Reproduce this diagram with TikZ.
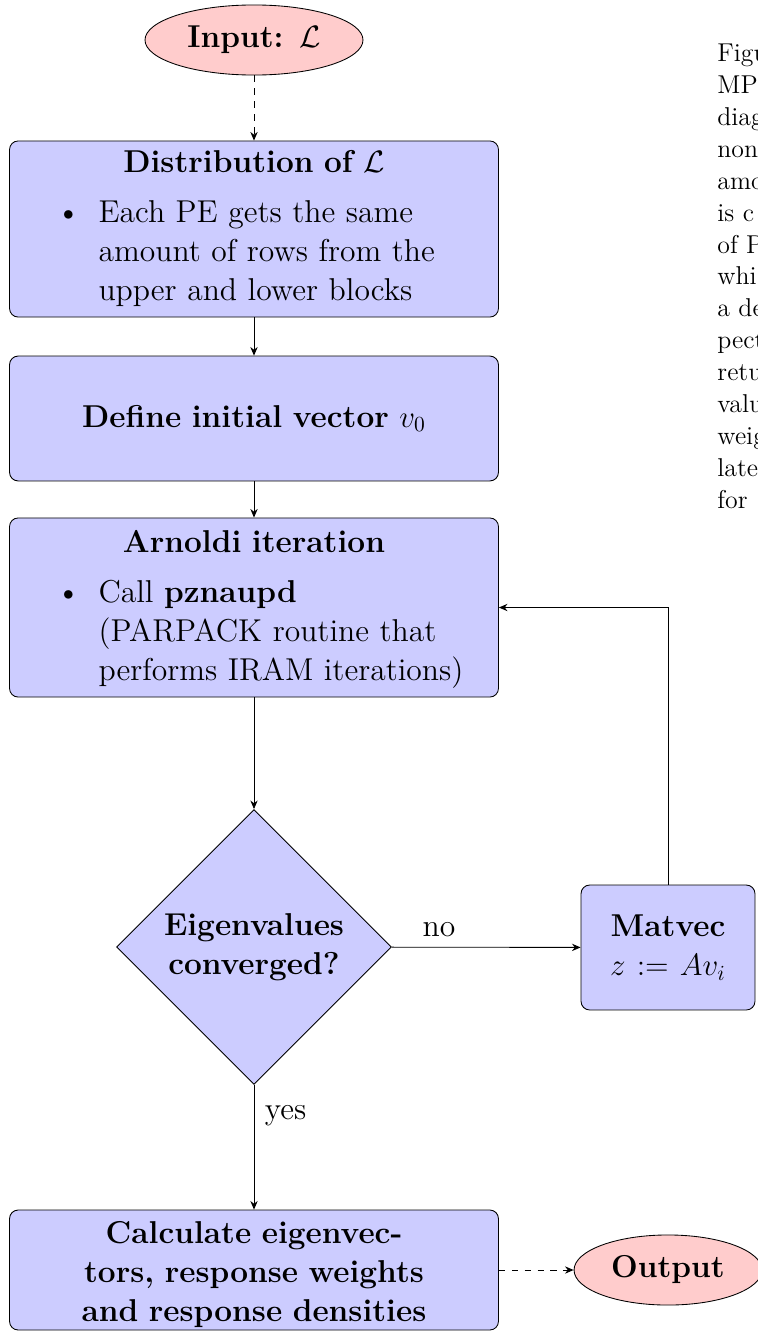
\documentclass[tikz,border=0pt]{standalone}
\usetikzlibrary{shapes.geometric,arrows.meta}
\begin{document}
\begin{tikzpicture}[x=0.46512pt,y=-0.46512pt,
  every node/.style={font=\fontsize{14.7}{18}\selectfont},
  procbox/.style={draw=black, rectangle, rounded corners=4pt, fill=blue!20,
    inner xsep=4.8pt, inner ysep=0pt, minimum width=227.4pt, text width=217.8pt, align=center},
  termnode/.style={draw=black, ellipse, fill=red!20, inner sep=0pt, minimum height=32.6pt, font=\fontsize{14.7}{18}\selectfont\bfseries},
  decnode/.style={draw=black, diamond, fill=blue!20, inner sep=0pt, minimum width=127.9pt, minimum height=127.9pt, align=center, font=\fontsize{14.7}{18}\selectfont\bfseries},
  flowarrow/.style={draw=black, -{Stealth[length=4pt,width=3.4pt]}},
  dasharrow/.style={flowarrow, dashed},
  edgelabel/.style={font=\fontsize{14.7}{18}\selectfont, inner sep=4.8pt},
  captiontext/.style={font=\fontsize{12}{14.85}\selectfont, inner sep=0pt, align=left, anchor=north west}
]
\useasboundingbox (0,0) rectangle (758,1331);

\node[termnode, minimum width=101.4pt] (input) at (254,40) {Input: $\mathcal{L}$};

\node[procbox, minimum height=81.9pt] (dist) at (254,229)
  {\rule{0pt}{12pt}\textbf{Distribution of $\mathcal{L}$}\\[5.5pt]
   \makebox[217.8pt][l]{\makebox[36.6pt][r]{\textbullet\hspace{8.4pt}}\begin{tabular}[t]{@{}l@{}}Each PE gets the same\\amount of rows from the\\upper and lower blocks\end{tabular}}};

\node[procbox, minimum height=58.1pt] (define) at (254,418.5)
  {\textbf{Define initial vector $v_0$}};

\node[procbox, minimum height=83.3pt] (arnoldi) at (254,607.5)
  {\rule{0pt}{13.7pt}\textbf{Arnoldi iteration}\\[5.5pt]
   \makebox[217.8pt][l]{\makebox[36.6pt][r]{\textbullet\hspace{8.4pt}}\begin{tabular}[t]{@{}l@{}}Call \textbf{pznaupd}\\(PARPACK routine that\\performs IRAM iterations)\end{tabular}}};

\node[decnode] (decide) at (254,947) {Eigenvalues\\converged?};

\node[procbox, minimum width=80.9pt, text width=71.3pt, minimum height=58.1pt] (matvec) at (668,947.5)
  {\textbf{Matvec}\\$z := Av_i$};

\node[procbox, minimum height=55.8pt, font=\fontsize{14.7}{18}\selectfont\bfseries] (calc) at (254,1270)
  {\rule{0pt}{14.5pt}Calculate eigenvec-\\tors, response weights\\and response densities};

\node[termnode, minimum width=87.4pt] (output) at (668,1270) {Output};

\draw[dasharrow] (input) -- (dist);
\draw[flowarrow] (dist) -- (define);
\draw[flowarrow] (define) -- (arnoldi);
\draw[flowarrow] (arnoldi) -- (decide);
\draw[flowarrow] (decide) -- node[edgelabel, above, pos=0.25] {no} (matvec);
\draw[flowarrow] (decide) -- node[edgelabel, right, pos=0.25] {yes} (calc);
\draw[flowarrow] (matvec) |- (arnoldi);
\draw[dasharrow] (calc) -- (output);

\node[captiontext] (caption) at (717,43.5)
  {Figu\\MP\\diag\\non\\amo\\is c\\of P\\whi\\a de\\pect\\retu\\valu\\weig\\late\\for};
\end{tikzpicture}
\end{document}
